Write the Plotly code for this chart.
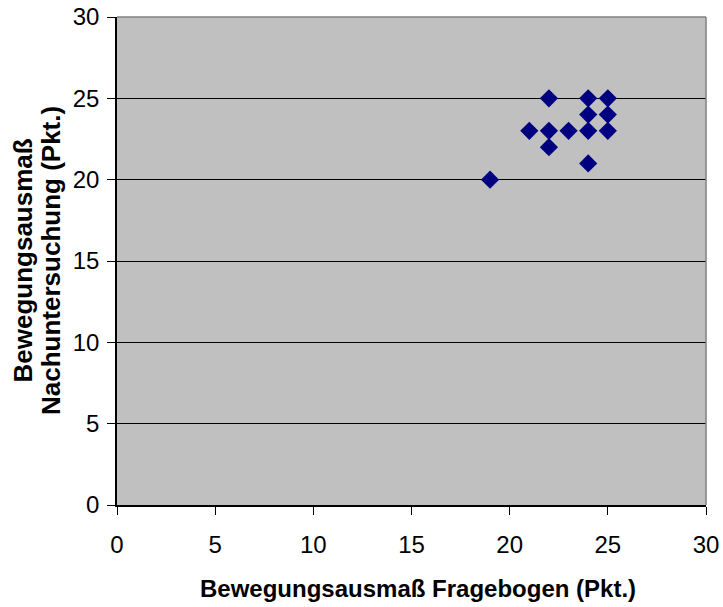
import plotly.graph_objects as go

# Questionnaire score vs. follow-up examination score
fragebogen = [19, 21, 22, 22, 22, 23, 24, 24, 24, 24, 25, 25, 25]
nachuntersuchung = [20, 23, 25, 23, 22, 23, 25, 24, 23, 21, 25, 24, 23]
ticks = [0, 5, 10, 15, 20, 25, 30]

x_title = "Bewegungsausmaß Fragebogen (Pkt.)"
y_title_lines = ["Bewegungsausmaß", "Nachuntersuchung (Pkt.)"]

font_family = "Liberation Sans, Arial, sans-serif"
L, R, T, B = 117, 17, 17, 102
W, H = 723, 607
plot_w = W - L - R

fig = go.Figure()
fig.add_trace(go.Scatter(
    x=fragebogen, y=nachuntersuchung, mode="markers",
    marker=dict(symbol="diamond", size=14, color="#000080",
                line=dict(width=0)),
    showlegend=False,
))

# Top and right edges of the plotting area
fig.add_shape(type="line", xref="paper", yref="paper", x0=0, x1=1, y0=1, y1=1,
              line=dict(color="#808080", width=1.5), layer="above")
fig.add_shape(type="line", xref="paper", yref="paper", x0=1, x1=1, y0=0, y1=1,
              line=dict(color="#808080", width=1.5), layer="above")

# Axis titles
fig.add_annotation(
    text="<b>%s</b>" % x_title, xref="paper", yref="paper",
    x=(418 - L) / plot_w, y=0, xanchor="center", yanchor="middle",
    yshift=-83, showarrow=False, font=dict(size=24, color="black"),
)
for px, line in zip([22.5, 51], y_title_lines):
    fig.add_annotation(
        text="<b>%s</b>" % line, xref="paper", yref="paper",
        x=0, y=0.5, xanchor="center", yanchor="middle",
        xshift=px - L, textangle=-90, showarrow=False,
        font=dict(size=26, color="black"),
    )

fig.update_layout(
    width=W, height=H,
    margin=dict(l=L, r=R, t=T, b=B),
    paper_bgcolor="white",
    plot_bgcolor="#C0C0C0",
    font=dict(family=font_family, color="black"),
    xaxis=dict(
        range=[0, 30], tickvals=ticks, ticktext=[str(t) for t in ticks],
        showgrid=False, zeroline=False, automargin=False,
        showline=True, linecolor="black", linewidth=1.5,
        ticks="outside", ticklen=8, tickcolor="black",
        tickfont=dict(size=24), ticklabelstandoff=9,
    ),
    yaxis=dict(
        range=[0, 30], tickvals=ticks, ticktext=[str(t) for t in ticks],
        showgrid=True, gridcolor="black", gridwidth=1,
        zeroline=False, automargin=False,
        showline=True, linecolor="black", linewidth=1.5,
        ticks="outside", ticklen=8, tickcolor="black",
        tickfont=dict(size=24), ticklabelstandoff=3,
    ),
)

fig.write_html("out.html")
